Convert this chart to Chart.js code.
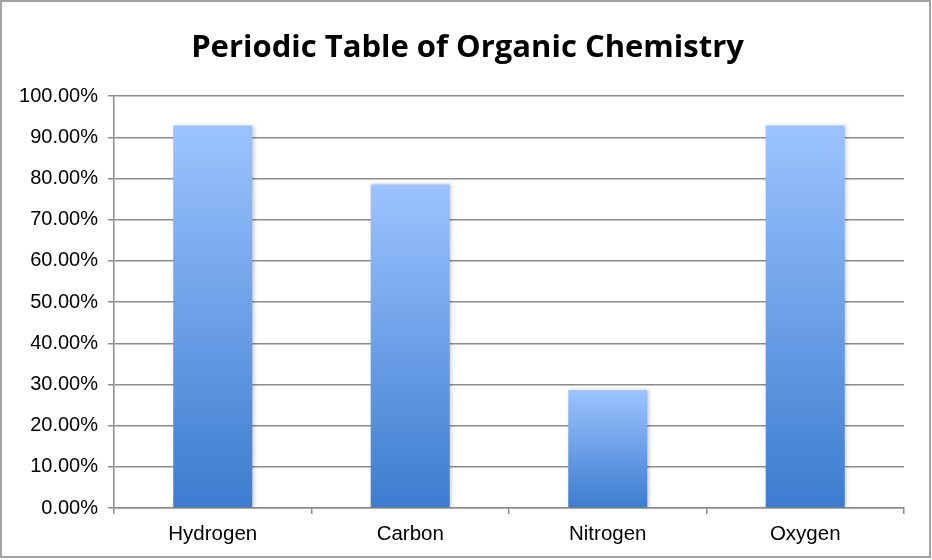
<!DOCTYPE html>
<html>
<head>
<meta charset="utf-8">
<script src="https://cdn.jsdelivr.net/npm/chart.js@4"></script>
<style>
  body { margin: 0; background: #fff; }
  #wrap { position: relative; width: 932px; height: 560px; }
  #frame { position: absolute; left: 0; top: 0; width: 931px; height: 558px; box-sizing: border-box; border: 2px solid #a3a3a3; pointer-events: none; }
</style>
</head>
<body>
<div id="wrap">
  <canvas id="myChart" width="932" height="560"></canvas>
  <div id="frame"></div>
</div>
<script>
let elements=['Hydrogen','Carbon','Nitrogen','Oxygen']
let percents=[92.86,78.57,28.57,92.86]

let yMin=0
let yMax=100
let yStep=10

const ctx = document.getElementById('myChart');

// each bar fades from light blue at its top to darker blue at the base
function barGradient(context){
  let chart=context.chart
  let area=chart.chartArea
  if(!area || !chart.scales.y) return '#6a9ee8'
  let top=chart.scales.y.getPixelForValue(percents[context.dataIndex])
  let g=chart.ctx.createLinearGradient(0,top,0,area.bottom)
  g.addColorStop(0,'#9cc3ff')
  g.addColorStop(1,'#3c7ccf')
  return g
}

const barShadow = {
  id:'barShadow',
  beforeDatasetsDraw(chart){
    chart.ctx.save()
    chart.ctx.shadowColor='rgba(0,0,0,0.22)'
    chart.ctx.shadowBlur=4
    chart.ctx.shadowOffsetX=1.5
    chart.ctx.shadowOffsetY=0
  },
  afterDatasetsDraw(chart){
    chart.ctx.restore()
  }
}

let myChart = new Chart(ctx, {
  type: 'bar',
  data: {
    labels: elements,
    datasets: [{
      data: percents,
      backgroundColor: barGradient,
      borderWidth: 0,
      barPercentage: 0.4,
      categoryPercentage: 1.0
    }]
  },
  plugins: [barShadow],
  options: {
    responsive: false,
    animation: false,
    layout: { padding: { left: 15, right: 12, top: 0, bottom: 0 } },
    plugins: {
      legend: { display: false },
      tooltip: { enabled: false },
      title: {
        display: true,
        text: 'Periodic Table of Organic Chemistry',
        color: '#000',
        font: { family: 'Open Sans', size: 31, weight: 'bold', lineHeight: 1.2 },
        padding: { top: 30, bottom: 29 }
      }
    },
    scales: {
      x: {
        grid: { display: true, offset: true, drawOnChartArea: false, tickLength: 6, color: '#8c8c8c', lineWidth: 1.5 },
        border: { display: true, color: '#8c8c8c', width: 1.5 },
        ticks: { color: '#000', font: { family: 'Liberation Sans', size: 20.5 }, padding: 8 },
        afterFit(scale){ scale.height = 52 }
      },
      y: {
        min: yMin,
        max: yMax,
        ticks: {
          stepSize: yStep,
          color: '#000',
          font: { family: 'Liberation Sans', size: 20 },
          padding: 10,
          callback: v => v.toFixed(2)+'%'
        },
        grid: { color: '#8c8c8c', lineWidth: 1.5, tickLength: 6 },
        border: { display: true, color: '#8c8c8c', width: 1.5 },
        afterFit(scale){ scale.width = 99 }
      },
      // empty right-hand spacer so the plot ends short of the frame
      spacer: {
        type: 'linear',
        position: 'right',
        min: yMin,
        max: yMax,
        ticks: { display: false },
        grid: { display: false },
        border: { display: false },
        afterFit(scale){ scale.width = 16 }
      }
    }
  }
});
</script>
</body>
</html>
